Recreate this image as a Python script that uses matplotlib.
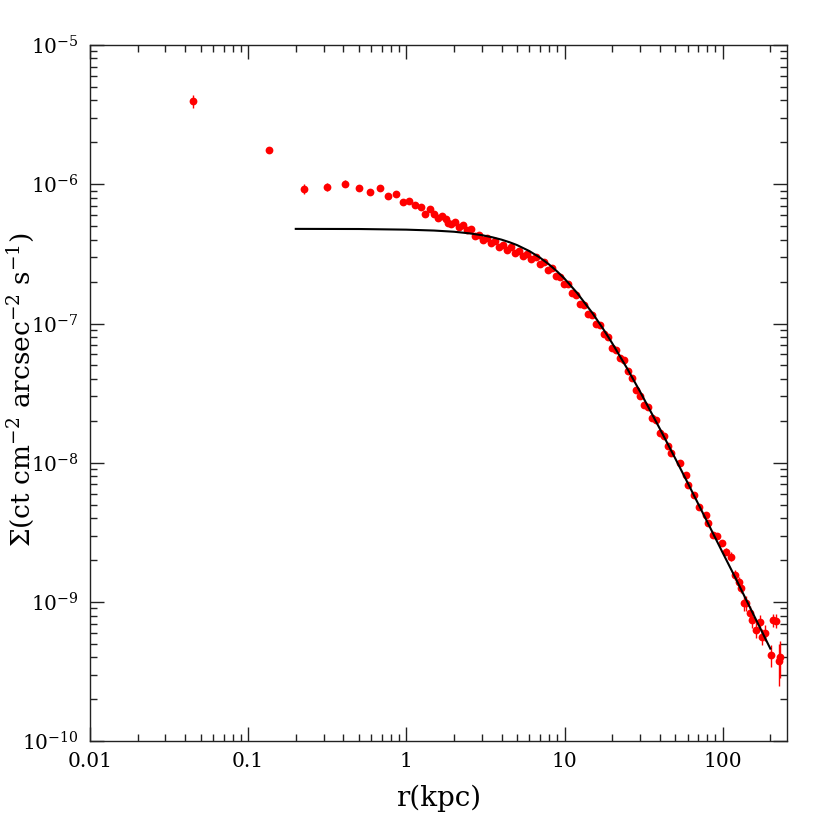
import matplotlib
matplotlib.use("Agg")
import matplotlib.pyplot as plt
from matplotlib.ticker import LogLocator, FixedLocator, NullFormatter
import numpy as np

plt.rcParams['font.family'] = ['DejaVu Serif']
plt.rcParams['mathtext.fontset'] = 'dejavuserif'

# inner profile points (kpc, ct cm^-2 arcsec^-2 s^-1)
r_inner = [0.045, 0.135, 0.225, 0.316, 0.41, 0.499, 0.586, 0.678, 0.769, 0.86,
           0.953, 1.04, 1.135, 1.23, 1.31, 1.41, 1.50, 1.585, 1.69, 1.78, 1.84]
s_inner = [3.94e-6, 1.77e-6, 9.27e-7, 9.57e-7, 1.01e-6, 9.4e-7, 8.77e-7, 9.4e-7,
           8.2e-7, 8.5e-7, 7.48e-7, 7.64e-7, 7.08e-7, 6.92e-7, 6.14e-7, 6.59e-7,
           6.07e-7, 5.71e-7, 5.93e-7, 5.62e-7, 5.26e-7]
e_inner = [4.3e-7, 0.9e-7, 0.75e-7, 0.63e-7, 0.6e-7, 0.35e-7, 0.33e-7, 0.35e-7,
           0.3e-7, 0.3e-7, 0.28e-7, 0.28e-7, 0.26e-7, 0.25e-7, 0.22e-7, 0.24e-7,
           0.22e-7, 0.2e-7, 0.2e-7, 0.2e-7, 0.19e-7]

# dense middle band
r_band = [1.927, 2.042, 2.165, 2.295, 2.433, 2.579, 2.734, 2.897, 3.071, 3.256,
          3.451, 3.659, 3.878, 4.111, 4.358, 4.620, 4.897, 5.191, 5.503, 5.833,
          6.183, 6.555, 6.948, 7.365, 7.807, 8.276, 8.770, 9.299, 9.856, 10.45,
          11.07, 11.74, 12.44, 13.19, 13.98, 14.82, 15.71, 16.65, 17.65, 18.72,
          19.84, 21.03, 22.29, 23.63, 25.05, 26.56, 28.15, 29.84, 31.62, 33.52,
          35.53, 37.66, 39.93, 42.33, 44.87]
s_band = [5.19e-7, 5.36e-7, 4.94e-7, 5.10e-7, 4.70e-7, 4.77e-7, 4.25e-7, 4.35e-7,
          3.98e-7, 4.13e-7, 3.76e-7, 3.92e-7, 3.55e-7, 3.66e-7, 3.35e-7, 3.52e-7,
          3.21e-7, 3.32e-7, 3.03e-7, 3.18e-7, 2.89e-7, 2.98e-7, 2.68e-7, 2.75e-7,
          2.43e-7, 2.49e-7, 2.18e-7, 2.16e-7, 1.91e-7, 1.92e-7, 1.66e-7, 1.60e-7,
          1.38e-7, 1.36e-7, 1.17e-7, 1.16e-7, 1.00e-7, 9.77e-8, 8.35e-8, 7.95e-8,
          6.68e-8, 6.46e-8, 5.66e-8, 5.48e-8, 4.57e-8, 4.07e-8, 3.34e-8, 3.02e-8,
          2.60e-8, 2.52e-8, 2.10e-8, 2.03e-8, 1.64e-8, 1.56e-8, 1.31e-8]
band_relerr = 0.03

# outer points
r_outer = [47.3, 53.5, 58.3, 60.3, 65.8, 70.5, 78.0, 80.7, 86.8, 92.0, 99.6,
           104.5, 113.5, 119.1, 126.8, 131.3, 135.8, 141.3, 149.7, 154.2, 161.7,
           171.4, 177.4, 186.3, 201.3, 208.0, 218.6, 226.1, 231.7]
s_outer = [1.17e-8, 9.93e-9, 8.18e-9, 6.94e-9, 5.88e-9, 4.85e-9, 4.23e-9, 3.70e-9,
           3.03e-9, 2.99e-9, 2.67e-9, 2.30e-9, 2.12e-9, 1.57e-9, 1.40e-9, 1.26e-9,
           9.82e-10, 9.82e-10, 8.32e-10, 7.45e-10, 6.31e-10, 7.24e-10, 5.65e-10,
           6.04e-10, 4.18e-10, 7.45e-10, 7.36e-10, 3.74e-10, 4.06e-10]
relerr_outer = [0.04, 0.04, 0.04, 0.04, 0.05, 0.05, 0.05, 0.05, 0.05, 0.05, 0.05,
                0.06, 0.07, 0.08, 0.08, 0.08, 0.12, 0.12, 0.12, 0.12, 0.13,
                0.12, 0.13, 0.13, 0.18, 0.11, 0.11, 0.33, 0.30]

# beta-model fit curve
r_model = [0.2, 0.5, 1, 1.5, 2, 2.5, 3, 3.5, 4, 4.5, 5, 6, 7, 8, 9, 10, 12, 15,
           17.5, 20, 25, 30, 40, 50, 60, 80, 100, 120, 150, 200]
s_model = [4.78e-7, 4.77e-7, 4.72e-7, 4.65e-7, 4.56e-7, 4.44e-7, 4.31e-7, 4.16e-7,
           4.00e-7, 3.83e-7, 3.66e-7, 3.31e-7, 2.97e-7, 2.65e-7, 2.36e-7, 2.10e-7,
           1.66e-7, 1.19e-7, 9.19e-8, 7.23e-8, 4.71e-8, 3.25e-8, 1.76e-8, 1.08e-8,
           7.19e-9, 3.75e-9, 2.26e-9, 1.50e-9, 8.96e-10, 4.63e-10]

xticks = [0.01, 0.1, 1, 10, 100]
xticklabels = ["0.01", "0.1", "1", "10", "100"]
yticks = [1e-10, 1e-9, 1e-8, 1e-7, 1e-6, 1e-5]
yticklabels = [r"$10^{-10}$", r"$10^{-9}$", r"$10^{-8}$", r"$10^{-7}$",
               r"$10^{-6}$", r"$10^{-5}$"]

fig = plt.figure(figsize=(8.3, 8.3), dpi=100)
ax = fig.add_axes([0.1084, 0.1069, 0.9482 - 0.1084, 0.9458 - 0.1069])
ax.set_xscale('log')
ax.set_yscale('log')

red = '#ff0000'
ekw = dict(fmt='o', color=red, ms=5.6, mew=0, elinewidth=1.0, capsize=3.2, capthick=1.0)
ax.errorbar(r_inner, s_inner, yerr=e_inner, **ekw)
sb = np.array(s_band)
ax.errorbar(r_band, s_band, yerr=sb * band_relerr, **ekw)
so = np.array(s_outer)
ax.errorbar(r_outer, s_outer, yerr=so * np.array(relerr_outer), **ekw)

ax.plot(r_model, s_model, color='black', lw=1.5, zorder=5)

ax.set_xlim(0.01, 255)
ax.set_ylim(1e-10, 1e-5)

ax.xaxis.set_major_locator(FixedLocator(xticks))
ax.set_xticklabels(xticklabels)
ax.xaxis.set_minor_locator(LogLocator(base=10, subs=np.arange(2, 10)))
ax.xaxis.set_minor_formatter(NullFormatter())
ax.yaxis.set_major_locator(FixedLocator(yticks))
ax.set_yticklabels(yticklabels)
ax.yaxis.set_minor_locator(LogLocator(base=10, subs=np.arange(2, 10)))
ax.yaxis.set_minor_formatter(NullFormatter())

ax.tick_params(which='both', direction='in', top=True, right=True, width=1.0, color='#222222')
ax.tick_params(which='major', length=10, labelsize=14.5, pad=8)
ax.tick_params(which='minor', length=5)
for sp in ax.spines.values():
    sp.set_linewidth(1.0)
    sp.set_color('#222222')

ax.set_xlabel("r(kpc)", fontsize=20, va='top')
ax.set_ylabel(r"$\Sigma$(ct cm$^{-2}$ arcsec$^{-2}$ s$^{-1}$)", fontsize=19, va='center')
ax.xaxis.set_label_coords(0.5, -0.063)
ax.yaxis.set_label_coords(-0.1, 0.505)

fig.savefig("out.png", dpi=100)
